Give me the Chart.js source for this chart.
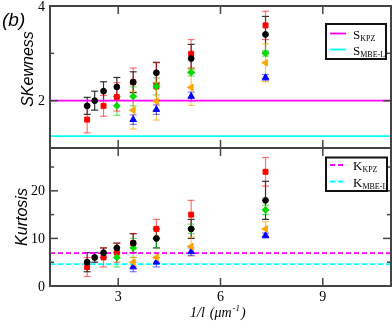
<!DOCTYPE html>
<html>
<head>
<meta charset="utf-8">
<script src="https://cdn.jsdelivr.net/npm/chart.js@4.4.0/dist/chart.umd.min.js"></script>
<style>
  html, body { margin: 0; padding: 0; background: #fff; }
  #wrap { position: relative; width: 392px; height: 327px; overflow: hidden; }
  #topChart { position: absolute; left: 0; top: 0; }
  #botChart { position: absolute; left: 0; top: 140px; }
</style>
</head>
<body>
<div id="wrap">
  <canvas id="topChart" width="392" height="152"></canvas>
  <canvas id="botChart" width="392" height="187"></canvas>
</div>
<script>
// x positions (1/l, um^-1)
const xVals = [2.09, 2.31, 2.57, 2.96, 3.44, 4.12, 5.14, 7.32];
const xTicks = [3, 6, 9];

// Skewness panel
const skewTicks = [2, 4];
const skewMinor = [3];
const skewBlack = [1.89, 2.00, 2.20, 2.29, 2.39, 2.59, 2.89, 3.40];
const skewBlackErr = [0.18, 0.2, 0.2, 0.2, 0.22, 0.22, 0.3, 0.38];
const skewRed = [1.60, null, 1.89, 2.08, 2.39, 2.30, 2.99, 3.59];
const skewRedErr = [0.28, null, 0.22, 0.3, 0.3, 0.5, 0.3, 0.3];
const skewGreen = [null, null, null, 1.89, 2.09, 2.30, 2.60, 3.00];
const skewGreenErr = [null, null, null, 0.2, 0.2, 0.18, 0.08, 0.06];
const skewOrange = [null, null, null, null, 1.80, 1.99, 2.28, 2.80];
const skewOrangeErr = [null, null, null, null, 0.4, 0.4, 0.38, 0.4];
const skewBlue = [null, null, null, null, 1.60, 1.81, 2.09, 2.49];
const skewBlueErr = [null, null, null, null, 0.1, 0.1, 0.09, 0.06];
const skewKPZ = 2.0;
const skewMBE = 1.25;

// Kurtosis panel
const kurtTicks = [0, 10, 20];
const kurtMinor = [5, 15, 25];
const kurtBlack = [5.0, 6.0, 7.0, 8.0, 9.0, 10.0, 12.0, 18.0];
const kurtBlackErr = [2, 1, 1, 1, 2, 2, 2, 4];
const kurtRed = [4.0, null, 6.0, 7.0, 9.0, 12.0, 15.0, 24.0];
const kurtRedErr = [2, null, 2, 2, 2, 2, 3, 3];
const kurtGreen = [null, null, null, 6.0, 8.0, 10.0, 12.0, 16.0];
const kurtGreenErr = [null, null, null, 2, 2, 2, 1, 1];
const kurtOrange = [null, null, null, null, 5.0, 6.0, 8.3, 12.0];
const kurtOrangeErr = [null, null, null, null, 1, 1, 2, 1.5];
const kurtBlue = [null, null, null, null, 4.0, 5.0, 7.2, 10.6];
const kurtBlueErr = [null, null, null, null, 1, 1, 0.8, 0.5];
const kurtKPZ = 6.9;
const kurtMBE = 4.6;

const frameColor = '#444';
const serif = '"Liberation Serif", "Times New Roman", serif';
const sans = '"Liberation Sans", Arial, sans-serif';

const styles = {
  black:  { color: '#000000', err: 'rgba(0,0,0,0.8)',      style: 'circle',   r: 2.9, rot: 0 },
  green:  { color: '#00dd00', err: 'rgba(0,200,0,0.55)',   style: 'rectRot',  r: 3.4, rot: 0 },
  red:    { color: '#ff0000', err: 'rgba(255,0,0,0.55)',   style: 'rect',     r: 3.5, rot: 0 },
  orange: { color: '#ffa500', err: 'rgba(255,165,0,0.65)', style: 'triangle', r: 3.8, rot: -90 },
  blue:   { color: '#0000ff', err: 'rgba(0,0,255,0.5)',    style: 'triangle', r: 3.8, rot: 0 }
};

function series(key, vals, errs) {
  const s = styles[key];
  return {
    label: key,
    data: xVals.map((x, i) => ({ x, y: vals[i], e: errs[i] })).filter(p => p.y !== null),
    showLine: false,
    pointStyle: s.style,
    pointRadius: s.r,
    pointRotation: s.rot,
    pointBackgroundColor: s.color,
    pointBorderColor: s.color,
    pointBorderWidth: 1,
    errColor: s.err
  };
}

function refLine(val, color, dash) {
  return {
    label: 'ref',
    data: [{ x: 1, y: val }, { x: 11, y: val }],
    showLine: true,
    borderColor: color,
    borderWidth: 1.8,
    borderDash: dash,
    pointRadius: 0
  };
}

function seg(ctx, x1, y1, x2, y2) {
  ctx.beginPath();
  ctx.moveTo(x1, y1);
  ctx.lineTo(x2, y2);
  ctx.stroke();
}

function drawLegend(ctx, box, items) {
  ctx.save();
  ctx.fillStyle = '#fff';
  ctx.fillRect(box.x, box.y, box.w, box.h);
  ctx.strokeStyle = '#111';
  ctx.lineWidth = 2;
  ctx.strokeRect(box.x, box.y, box.w, box.h);
  items.forEach(it => {
    ctx.strokeStyle = it.color;
    ctx.lineWidth = 1.8;
    ctx.setLineDash(it.dash);
    seg(ctx, box.x + 4, it.ly, box.x + 20, it.ly);
    ctx.setLineDash([]);
    ctx.fillStyle = '#000';
    ctx.textBaseline = 'alphabetic';
    ctx.textAlign = 'left';
    ctx.font = '13px ' + serif;
    ctx.fillText(it.main, box.x + 27, it.ly + 5);
    const w = ctx.measureText(it.main).width;
    ctx.font = '8px ' + serif;
    ctx.fillText(it.sub, box.x + 27 + w, it.ly + 7);
  });
  ctx.restore();
}

function panelPlugin(cfg) {
  return {
    id: 'panel',
    beforeDatasetsDraw(chart) {
      const { ctx, chartArea: a } = chart;
      ctx.save();
      ctx.beginPath();
      ctx.rect(a.left, a.top, a.right - a.left, a.bottom - a.top);
      ctx.clip();
      const ys = chart.scales.y;
      chart.data.datasets.forEach((ds, di) => {
        if (!ds.errColor) return;
        const meta = chart.getDatasetMeta(di);
        ctx.strokeStyle = ds.errColor;
        ctx.lineWidth = 1.2;
        meta.data.forEach((pt, i) => {
          const p = ds.data[i];
          if (p.e == null) return;
          const hi = ys.getPixelForValue(p.y + p.e);
          const lo = ys.getPixelForValue(p.y - p.e);
          seg(ctx, pt.x, hi, pt.x, lo);
          seg(ctx, pt.x - 3.5, hi, pt.x + 3.5, hi);
          seg(ctx, pt.x - 3.5, lo, pt.x + 3.5, lo);
        });
      });
      ctx.restore();
    },
    afterDraw(chart) {
      const { ctx, chartArea: a, scales: { x, y } } = chart;
      ctx.save();
      ctx.strokeStyle = frameColor;
      ctx.lineWidth = 1.5;
      cfg.yMajor.forEach(v => {
        const py = y.getPixelForValue(v);
        seg(ctx, a.left, py, a.left + 8, py);
        seg(ctx, a.right - 8, py, a.right, py);
      });
      cfg.yMinor.forEach(v => {
        const py = y.getPixelForValue(v);
        seg(ctx, a.left, py, a.left + 4, py);
        seg(ctx, a.right - 4, py, a.right, py);
      });
      xTicks.forEach(v => {
        const px = x.getPixelForValue(v);
        seg(ctx, px, a.top, px, a.top + 8);
        seg(ctx, px, a.bottom - 8, px, a.bottom);
      });
      ctx.lineWidth = 2;
      ctx.strokeRect(a.left, a.top, a.right - a.left, a.bottom - a.top);

      // y tick labels
      ctx.fillStyle = '#000';
      ctx.font = '14px ' + serif;
      ctx.textAlign = 'right';
      ctx.textBaseline = 'middle';
      cfg.yMajor.forEach(v => ctx.fillText(String(v), a.left - 5, y.getPixelForValue(v) + 1));

      // y title
      ctx.save();
      ctx.translate(cfg.titleX, cfg.titleY);
      ctx.rotate(-Math.PI / 2);
      ctx.font = 'italic 16px ' + sans;
      ctx.textAlign = 'center';
      ctx.textBaseline = 'alphabetic';
      ctx.fillText(cfg.title, 0, 0);
      ctx.restore();

      drawLegend(ctx, cfg.legendBox, cfg.legendItems);
      if (cfg.extra) cfg.extra(chart);
      ctx.restore();
    }
  };
}

function options(cfg) {
  return {
    responsive: false,
    animation: false,
    events: [],
    layout: { autoPadding: false, padding: cfg.pad },
    plugins: { legend: { display: false }, tooltip: { enabled: false } },
    scales: {
      x: { type: 'linear', min: 1, max: 11, display: false },
      y: { type: 'linear', min: cfg.ymin, max: cfg.ymax, display: false }
    }
  };
}

const topCfg = {
  pad: { top: 6, bottom: 4, left: 50, right: 1 },
  ymin: 1, ymax: 4,
  yMajor: skewTicks, yMinor: skewMinor,
  title: 'SKewness', titleX: 33, titleY: 69,
  legendBox: { x: 326, y: 24, w: 60, h: 35 },
  legendItems: [
    { color: '#ff00ff', dash: [], main: 'S', sub: 'KPZ', ly: 33.5 },
    { color: '#00ffff', dash: [], main: 'S', sub: 'MBE-L', ly: 49.5 }
  ],
  extra(chart) {
    const ctx = chart.ctx;
    ctx.fillStyle = '#000';
    ctx.font = 'italic 19px ' + sans;
    ctx.textAlign = 'left';
    ctx.textBaseline = 'alphabetic';
    ctx.fillText('(b)', 2, 26);
  }
};

const botCfg = {
  pad: { top: 8, bottom: 41, left: 50, right: 1 },
  ymin: 0, ymax: 29,
  yMajor: kurtTicks, yMinor: kurtMinor,
  title: 'Kurtosis', titleX: 27, titleY: 77,
  legendBox: { x: 326, y: 17.5, w: 61, h: 33.5 },
  legendItems: [
    { color: '#ff00ff', dash: [5, 3], main: 'K', sub: 'KPZ', ly: 25 },
    { color: '#00ffff', dash: [5, 3], main: 'K', sub: 'MBE-L', ly: 41.5 }
  ],
  extra(chart) {
    const { ctx, chartArea: a, scales: { x } } = chart;
    ctx.fillStyle = '#000';
    ctx.font = '14px ' + serif;
    ctx.textAlign = 'center';
    ctx.textBaseline = 'alphabetic';
    xTicks.forEach(v => ctx.fillText(String(v), x.getPixelForValue(v), a.bottom + 15));
    // x title: 1/l (um^-1)
    ctx.textAlign = 'left';
    ctx.font = 'italic 14px ' + serif;
    let px = 190;
    const base = a.bottom + 31;
    ctx.fillText('1/l', px, base);
    px += ctx.measureText('1/l').width + 5;
    ctx.fillText('(\u03bcm', px, base);
    px += ctx.measureText('(\u03bcm').width + 1;
    ctx.font = 'italic 9px ' + serif;
    ctx.fillText('-1', px, base - 6);
    px += ctx.measureText('-1').width + 1;
    ctx.font = 'italic 14px ' + serif;
    ctx.fillText(')', px, base);
  }
};

new Chart(document.getElementById('topChart'), {
  type: 'scatter',
  data: {
    datasets: [
      series('black', skewBlack, skewBlackErr),
      series('green', skewGreen, skewGreenErr),
      series('red', skewRed, skewRedErr),
      series('orange', skewOrange, skewOrangeErr),
      series('blue', skewBlue, skewBlueErr),
      refLine(skewKPZ, '#ff00ff', []),
      refLine(skewMBE, '#00ffff', [])
    ]
  },
  options: options(topCfg),
  plugins: [panelPlugin(topCfg)]
});

new Chart(document.getElementById('botChart'), {
  type: 'scatter',
  data: {
    datasets: [
      series('black', kurtBlack, kurtBlackErr),
      series('green', kurtGreen, kurtGreenErr),
      series('red', kurtRed, kurtRedErr),
      series('orange', kurtOrange, kurtOrangeErr),
      series('blue', kurtBlue, kurtBlueErr),
      refLine(kurtKPZ, '#ff00ff', [5, 3]),
      refLine(kurtMBE, '#00ffff', [5, 3])
    ]
  },
  options: options(botCfg),
  plugins: [panelPlugin(botCfg)]
});
</script>
</body>
</html>
